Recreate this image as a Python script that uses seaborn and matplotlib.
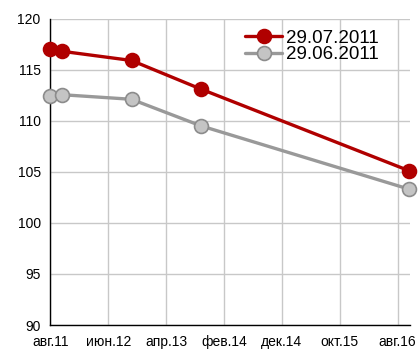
import matplotlib
matplotlib.use("Agg")
import matplotlib.pyplot as plt
import matplotlib.dates as mdates
import seaborn as sns
import pandas as pd
import datetime as dt

# Forecast dates and index values for the two forecast vintages
dates = ["2011-08-01", "2011-10-01", "2012-10-01", "2013-10-01", "2016-10-01"]
jul_2011 = [117.05, 116.8, 115.9, 113.1, 105.1]
jun_2011 = [112.4, 112.55, 112.1, 109.5, 103.3]
series_names = ["29.07.2011", "29.06.2011"]

tick_dates = ["2011-08-01", "2012-06-01", "2013-04-01", "2014-02-01",
              "2014-12-01", "2015-10-01", "2016-08-01"]
tick_labels = ["авг.11", "июн.12", "апр.13", "фев.14", "дек.14", "окт.15", "авг.16"]
y_ticks = [90, 95, 100, 105, 110, 115, 120]

df = pd.DataFrame({
    "date": pd.to_datetime(dates * 2),
    "value": jul_2011 + jun_2011,
    "series": [series_names[0]] * len(dates) + [series_names[1]] * len(dates),
})

sns.set_style("white")
plt.rcParams["font.family"] = ["Liberation Sans", "DejaVu Sans"]
plt.rcParams["text.color"] = "black"

fig = plt.figure(figsize=(4.2, 3.51), dpi=100)
ax = fig.add_axes([0.12, 0.074, 0.856, 0.873])

palette = {series_names[0]: "#b00000", series_names[1]: "#999999"}
edges = {series_names[0]: "#b00000", series_names[1]: "#8c8c8c"}
faces = {series_names[0]: "#b00000", series_names[1]: "#c4c4c4"}

for name in series_names:
    sub = df[df["series"] == name]
    sns.lineplot(data=sub, x="date", y="value", ax=ax, color=palette[name],
                 linewidth=2.4, marker="o", markersize=10,
                 markerfacecolor=faces[name], markeredgecolor=edges[name],
                 markeredgewidth=1.2, label=name, clip_on=False, zorder=3)

ax.set_xlim(mdates.date2num(dt.date(2011, 8, 1)), mdates.date2num(dt.date(2016, 10, 5)))
ax.set_ylim(90, 120)
ax.set_xticks([mdates.date2num(pd.Timestamp(d)) for d in tick_dates])
ax.set_xticklabels(tick_labels)
ax.set_yticks(y_ticks)
ax.set_xlabel("")
ax.set_ylabel("")

ax.grid(True, color="#c8c8c8", linewidth=1.0)
ax.set_axisbelow(True)
for s in ["top", "right"]:
    ax.spines[s].set_visible(False)
for s in ["left", "bottom"]:
    ax.spines[s].set_color("black")
    ax.spines[s].set_linewidth(1.0)

ax.tick_params(axis="x", direction="inout", length=7, width=1, labelsize=10,
               colors="black", pad=4)
ax.tick_params(axis="y", direction="out", length=4, width=1, labelsize=10,
               colors="black", pad=3)

leg = ax.legend(loc="upper right", frameon=False, fontsize=13.5,
                handlelength=2.0, handletextpad=0.2, labelspacing=-0.05,
                borderaxespad=0.2, bbox_to_anchor=(0.945, 1.0))
for t in leg.get_texts():
    t.set_color("black")

fig.savefig("out.png", dpi=100)
